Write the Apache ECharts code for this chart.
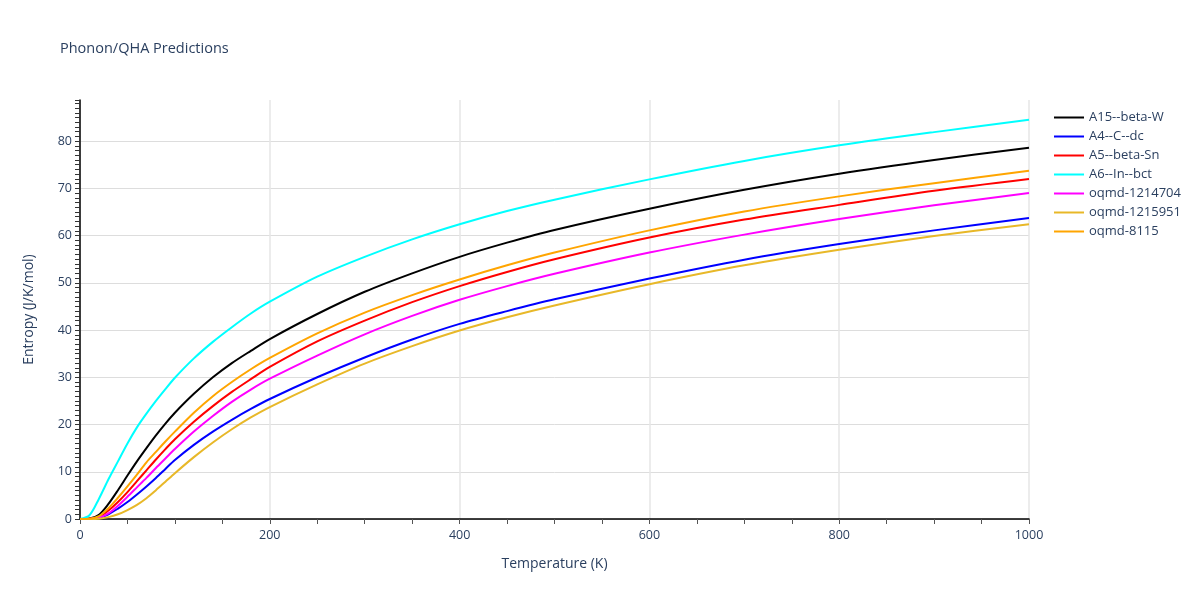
<!DOCTYPE html>
<html>
<head>
    <meta charset="UTF-8">
    <script src="https://cdn.jsdelivr.net/npm/echarts@6/dist/echarts.min.js"></script>
    <style>
        html, body { margin: 0; padding: 0; background: #fff; }
        #chart { width: 1200px; height: 600px; }
    </style>
</head>
<body>
<div id="chart"></div>
<script>
    // temperatures (K)
    var temps = [0, 10, 20, 30, 40, 50, 60, 70, 80, 90, 100, 120, 140, 160, 180, 200,
                 250, 300, 350, 400, 450, 500, 600, 700, 800, 900, 1000];

    // entropy values (J/K/mol)
    var a15BetaW   = [0, 0.1, 0.9, 3.2, 6.1, 9.2, 12.2, 15.0, 17.7, 20.2, 22.5, 26.5, 30.0, 33.0, 35.6, 38.1,
                      43.4, 48.1, 52.0, 55.5, 58.5, 61.2, 65.7, 69.7, 73.1, 76.0, 78.6];
    var a4CDc      = [0, 0.02, 0.3, 1.0, 2.2, 3.6, 5.2, 6.9, 8.7, 10.6, 12.5, 15.7, 18.5, 21.0, 23.3, 25.4,
                      30.0, 34.2, 38.0, 41.3, 44.0, 46.5, 50.9, 54.9, 58.2, 61.1, 63.7];
    var a5BetaSn   = [0, 0.05, 0.4, 1.8, 3.6, 5.7, 8.0, 10.3, 12.6, 14.8, 16.9, 20.6, 23.9, 26.9, 29.6, 32.2,
                      37.6, 42.0, 45.9, 49.3, 52.3, 55.0, 59.6, 63.4, 66.5, 69.5, 72.0];
    var a6InBct    = [0, 0.8, 4.3, 8.4, 12.2, 16.0, 19.4, 22.3, 25.0, 27.5, 29.9, 34.0, 37.5, 40.6, 43.5, 46.0,
                      51.3, 55.5, 59.2, 62.4, 65.2, 67.6, 71.9, 75.8, 79.1, 81.9, 84.5];
    var oqmd1214704 = [0, 0.02, 0.3, 1.2, 2.8, 4.7, 6.7, 8.7, 10.8, 12.8, 14.8, 18.5, 21.8, 24.8, 27.4, 29.7,
                      34.6, 39.1, 43.0, 46.4, 49.3, 51.9, 56.4, 60.2, 63.5, 66.4, 69.0];
    var oqmd1215951 = [0, 0, 0.05, 0.4, 1.0, 1.9, 3.0, 4.4, 6.1, 7.9, 9.7, 13.1, 16.2, 19.0, 21.5, 23.7,
                      28.5, 32.9, 36.6, 39.9, 42.7, 45.2, 49.7, 53.7, 57.0, 59.9, 62.4];
    var oqmd8115   = [0, 0.05, 0.6, 2.3, 4.5, 6.9, 9.4, 12.0, 14.2, 16.4, 18.5, 22.5, 26.0, 29.0, 31.7, 34.1,
                      39.3, 43.7, 47.4, 50.7, 53.7, 56.4, 61.1, 65.1, 68.3, 71.1, 73.7];

    var names  = ['A15--beta-W', 'A4--C--dc', 'A5--beta-Sn', 'A6--In--bct', 'oqmd-1214704', 'oqmd-1215951', 'oqmd-8115'];
    var values = [a15BetaW, a4CDc, a5BetaSn, a6InBct, oqmd1214704, oqmd1215951, oqmd8115];
    var colors = ['#000000', '#0000ff', '#ff0000', '#00ffff', '#ff00ff', '#e8b828', '#ffa500'];

    var textColor = '#2a3f5f';
    var fontName = '"Open Sans", "Noto Sans", sans-serif';

    function pairs(ys) {
        var out = [];
        for (var i = 0; i < temps.length; i++) {
            out.push([temps[i], ys[i]]);
        }
        return out;
    }

    var series = [];
    for (var i = 0; i < names.length; i++) {
        series.push({
            name: names[i],
            type: 'line',
            data: pairs(values[i]),
            showSymbol: false,
            symbol: 'none',
            smooth: 0.3,
            lineStyle: { color: colors[i], width: 2 },
            itemStyle: { color: colors[i] }
        });
    }

    var myChart = echarts.init(document.getElementById('chart'));
    var option = {
        backgroundColor: '#ffffff',
        animation: false,
        textStyle: { fontFamily: fontName },
        title: {
            text: 'Phonon/QHA Predictions',
            left: 55,
            top: 36,
            textStyle: { color: textColor, fontSize: 14.5, fontWeight: 'normal', fontFamily: fontName }
        },
        legend: {
            orient: 'vertical',
            left: 1049,
            top: 106,
            icon: 'rect',
            itemWidth: 30,
            itemHeight: 2,
            itemGap: 6,
            textStyle: { color: textColor, fontSize: 13, fontFamily: fontName },
            data: names
        },
        grid: { left: 80, right: 171, top: 100, bottom: 81, containLabel: false },
        xAxis: {
            type: 'value',
            min: 0,
            max: 1000,
            interval: 200,
            name: 'Temperature (K)',
            nameLocation: 'middle',
            nameGap: 38,
            nameTextStyle: { color: textColor, fontSize: 14, fontFamily: fontName },
            axisLine: { show: true, onZero: false, lineStyle: { color: '#000000', width: 1.5 } },
            axisTick: { show: true, length: 5, lineStyle: { color: '#555555' } },
            minorTick: { show: true, splitNumber: 4, length: 5, lineStyle: { color: '#555555' } },
            axisLabel: { color: textColor, fontSize: 12.5, margin: 10, formatter: function (v) { return String(v); } },
            splitLine: { show: true, lineStyle: { color: '#e6e6e6', width: 1.5 } }
        },
        yAxis: {
            type: 'value',
            min: 0,
            max: 88.7,
            interval: 10,
            name: 'Entropy (J/K/mol)',
            nameLocation: 'middle',
            nameGap: 44,
            nameTextStyle: { color: textColor, fontSize: 14, fontFamily: fontName },
            axisLine: { show: true, onZero: false, lineStyle: { color: '#000000', width: 1.5 } },
            axisTick: { show: true, length: 5, lineStyle: { color: '#333333' } },
            minorTick: { show: true, splitNumber: 10, length: 5, lineStyle: { color: '#333333' } },
            axisLabel: { color: textColor, fontSize: 12.5, margin: 8, showMaxLabel: false },
            splitLine: { show: true, showMaxLine: false, lineStyle: { color: '#dddddd', width: 1 } }
        },
        series: series
    };
    myChart.setOption(option);
</script>
</body>
</html>
